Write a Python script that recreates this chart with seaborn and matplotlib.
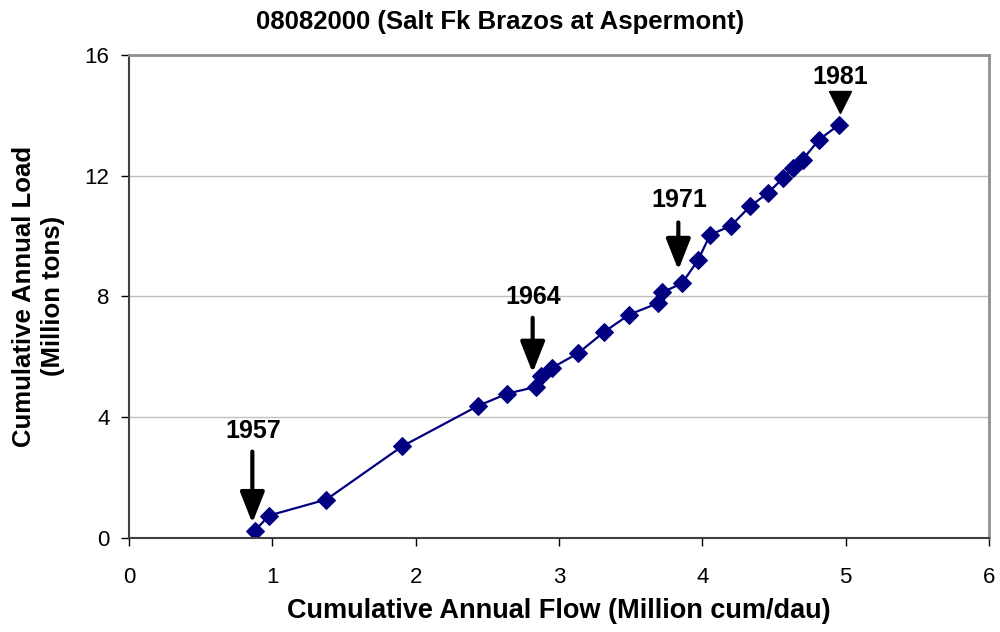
import matplotlib
matplotlib.use("Agg")
import pandas as pd
import matplotlib.pyplot as plt
from matplotlib.transforms import offset_copy
import seaborn as sns

# Kümülatif akım ve yük (1957-1981)
yillar = list(range(1957, 1982))
kum_akim = [0.878, 0.978, 1.377, 1.905, 2.434, 2.640, 2.837, 2.872, 2.953, 3.131,
            3.317, 3.491, 3.688, 3.718, 3.857, 3.969, 4.054, 4.200, 4.332, 4.455,
            4.564, 4.633, 4.699, 4.814, 4.953]
kum_yuk = [0.24, 0.74, 1.27, 3.03, 4.37, 4.78, 5.00, 5.37, 5.64, 6.11,
           6.83, 7.40, 7.77, 8.13, 8.43, 9.19, 10.04, 10.34, 10.98, 11.42,
           11.92, 12.25, 12.53, 13.19, 13.69]

# Ok ile işaretlenen yıllar
isaret_yillar = [1957, 1964, 1971]
son_yil = 1981

df = pd.DataFrame({"Yil": yillar, "Akim": kum_akim, "Yuk": kum_yuk})

sns.set_style("white")
plt.rcParams["font.family"] = ["Liberation Sans", "DejaVu Sans"]
plt.rcParams["text.color"] = "black"
plt.rcParams["xtick.color"] = "black"
plt.rcParams["ytick.color"] = "black"
plt.rcParams["axes.labelcolor"] = "black"

fig = plt.figure(figsize=(10, 6.32), dpi=100)
ax = fig.add_axes([0.129, 0.149, 0.860, 0.764])

ax.grid(axis="y", color="#c0c0c0", linewidth=1)
ax.set_axisbelow(True)

sns.lineplot(data=df, x="Akim", y="Yuk", ax=ax, color="#000080", marker="D",
             markersize=9.5, markeredgecolor="#000080", linewidth=1.6)

ax.set_xlim(0, 6)
ax.set_ylim(0, 16)
ax.set_xticks(range(0, 7))
ax.set_yticks([0, 4, 8, 12, 16])
ax.tick_params(axis="both", labelsize=16, length=6, width=1, direction="out",
               left=True, bottom=True)
ax.tick_params(axis="x", pad=15)
ax.tick_params(axis="y", pad=8)

for s in ["left", "bottom"]:
    ax.spines[s].set_color("#404040")
    ax.spines[s].set_linewidth(1.5)
for s in ["top", "right"]:
    ax.spines[s].set_color("#909090")
    ax.spines[s].set_linewidth(2)

ax.set_xlabel("Cumulative Annual Flow (Million cum/dau)", fontsize=19.5,
              fontweight="bold", labelpad=7)
ax.set_ylabel("Cumulative Annual Load\n(Million tons)", fontsize=18.5,
              fontweight="bold", labelpad=14, linespacing=1.25)
fig.text(0.5, 1 - 22 / 632, "08082000 (Salt Fk Brazos at Aspermont)",
         ha="center", va="center", fontsize=18.5, fontweight="bold")


def kaydir(dx, dy):
    return offset_copy(ax.transData, fig=fig, x=dx, y=dy, units="dots")


# Oklar: (uç dx, uç dy, gövde üstü dy, etiket dy) piksel
ok_ayar = {1957: (-2.5, 7.5, 79, 100),
           1964: (-8.0, 3, 58, 79),
           1971: (-3.5, 13.5, 61, 83)}

for yil in isaret_yillar:
    satir = df[df["Yil"] == yil].iloc[0]
    px, py = satir["Akim"], satir["Yuk"]
    dx, uc, ust, etk = ok_ayar[yil]
    ax.annotate("", xy=(px, py), xycoords=kaydir(dx, uc),
                xytext=(px, py), textcoords=kaydir(dx, ust),
                arrowprops=dict(arrowstyle="-|>,head_width=0.75,head_length=1.9",
                                color="black", lw=3, shrinkA=0, shrinkB=0))
    ax.text(px, py, str(yil), transform=kaydir(dx + 1, etk), ha="center",
            va="center", fontsize=18, fontweight="bold")

satir = df[df["Yil"] == son_yil].iloc[0]
ax.plot(satir["Akim"], satir["Yuk"], marker="v", markersize=15.5, color="black",
        linestyle="none", transform=kaydir(1, 23), clip_on=False)
ax.text(satir["Akim"], satir["Yuk"], str(son_yil), transform=kaydir(1, 48),
        ha="center", va="center", fontsize=18, fontweight="bold")

plt.savefig("out.png", dpi=100)
